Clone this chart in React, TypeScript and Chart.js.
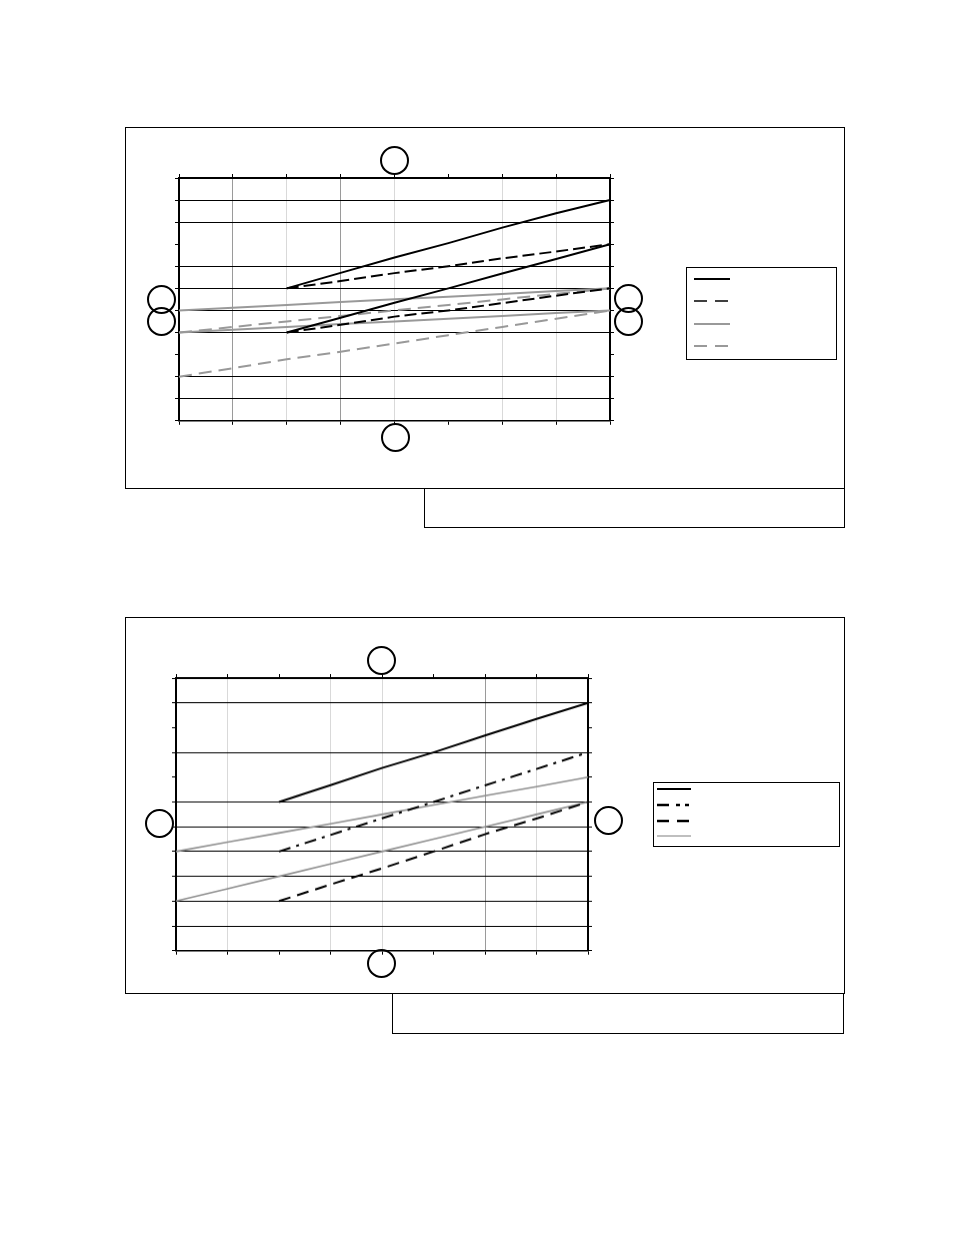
import React, { useEffect, useRef } from 'react';
import { Chart, registerables } from 'chart.js';

Chart.register(...registerables);

// x positions shared by both charts
const xLabels = ['0', '1', '2', '3', '4', '5', '6', '7', '8'];

// chart 1 (upper figure)
const c1BlackSolidA = [null, null, 6, 6.7, 7.4, 8.05, 8.75, 9.4, 10];
const c1BlackSolidB = [null, null, 4, 4.67, 5.35, 6.0, 6.67, 7.33, 8];
const c1BlackDashA = [null, null, 6, 6.33, 6.69, 7.0, 7.36, 7.67, 8];
const c1BlackDashB = [null, null, 4, 4.35, 4.72, 5.0, 5.33, 5.67, 6];
const c1GraySolidA = [5, 5.12, 5.25, 5.38, 5.51, 5.62, 5.75, 5.88, 6];
const c1GraySolidB = [4, 4.12, 4.25, 4.38, 4.5, 4.62, 4.75, 4.88, 5];
const c1GrayDashA = [4, 4.25, 4.5, 4.75, 5.0, 5.25, 5.5, 5.75, 6];
const c1GrayDashB = [2, 2.38, 2.79, 3.13, 3.5, 3.88, 4.25, 4.62, 5];

// chart 2 (lower figure)
const c2BlackSolid = [null, null, 6, 6.68, 7.37, 8.0, 8.68, 9.35, 10];
const c2DashDot = [null, null, 4, 4.67, 5.34, 6.0, 6.67, 7.33, 8];
const c2Dashed = [null, null, 2, 2.67, 3.32, 4.0, 4.7, 5.33, 6];
const c2GrayUpper = [4, 4.38, 4.75, 5.12, 5.5, 5.88, 6.25, 6.62, 7];
const c2GrayLower = [2, 2.5, 3, 3.5, 4, 4.5, 5, 5.5, 6];

const yMax = 11;
const c1HiddenRows = [3, 8];
const c2HiddenRows = [7, 9];

const DARK = '#9a9a9a';
const LIGHT = '#d9d9d9';
const NONE = 'rgba(0,0,0,0)';
const c1ColColors = ['#000', DARK, LIGHT, DARK, LIGHT, NONE, LIGHT, LIGHT, '#000'];
const c2ColColors = ['#000', LIGHT, NONE, LIGHT, LIGHT, NONE, DARK, LIGHT, '#000'];

const line = (data: (number | null)[], color: string, width: number, dash: number[] = []) => ({
  data,
  borderColor: color,
  borderWidth: width,
  borderDash: dash,
  pointRadius: 0,
  fill: false,
  tension: 0,
  spanGaps: false,
});

type Plot = { left: number; top: number; right: number; bottom: number };

const PAD = 8;
const TICK = 4;

const LineChart = ({ plot, datasets, hiddenRows, colColors }: {
  plot: Plot; datasets: any[]; hiddenRows: number[]; colColors: string[];
}) => {
  const ref = useRef<HTMLCanvasElement>(null);
  useEffect(() => {
    if (!ref.current) return;
    const border = { display: true, color: '#000', width: 1.5 };
    const chart = new Chart(ref.current, {
      type: 'line',
      data: { labels: xLabels, datasets },
      options: {
        animation: false,
        responsive: true,
        maintainAspectRatio: false,
        layout: { padding: PAD },
        plugins: { legend: { display: false }, tooltip: { enabled: false } },
        scales: {
          x: {
            type: 'category', position: 'bottom', offset: false,
            border,
            ticks: { display: false },
            grid: {
              color: (c: any) => colColors[c.index] ?? NONE,
              tickColor: '#000', tickLength: TICK, lineWidth: 1,
            },
          },
          x2: {
            type: 'category', position: 'top', offset: false,
            border,
            ticks: { display: false },
            grid: { drawOnChartArea: false, tickColor: '#000', tickLength: TICK },
          },
          y: {
            type: 'linear', position: 'left', min: 0, max: yMax,
            border,
            ticks: { display: false, stepSize: 1 },
            grid: {
              color: (c: any) => (hiddenRows.includes(c.tick.value) ? NONE : '#000'),
              tickColor: '#000', tickLength: TICK, lineWidth: 1,
            },
          },
          y2: {
            type: 'linear', position: 'right', min: 0, max: yMax,
            border,
            ticks: { display: false, stepSize: 1 },
            grid: { drawOnChartArea: false, tickColor: '#000', tickLength: TICK },
          },
        },
      } as any,
    });
    return () => chart.destroy();
  }, []);
  const m = PAD + TICK;
  return (
    <div style={{
      position: 'absolute', left: plot.left - m, top: plot.top - m,
      width: plot.right - plot.left + 2 * m, height: plot.bottom - plot.top + 2 * m,
    }}>
      <canvas ref={ref} />
    </div>
  );
};

const Box = ({ l, t, r, b }: { l: number; t: number; r: number; b: number }) => (
  <div style={{
    position: 'absolute', left: l, top: t, width: r - l, height: b - t,
    border: '1.5px solid #000', boxSizing: 'border-box',
  }} />
);

const Circle = ({ cx, cy }: { cx: number; cy: number }) => (
  <div style={{
    position: 'absolute', left: cx - 14.5, top: cy - 14.5, width: 29, height: 29,
    borderRadius: '50%', border: '2.5px solid #000', boxSizing: 'border-box', background: 'transparent',
  }} />
);

type LegendItem = { color: string; width: number; dash: string };

const Legend = ({ l, t, r, b, items, x1, x2, ys }: {
  l: number; t: number; r: number; b: number; items: LegendItem[]; x1: number; x2: number; ys: number[];
}) => (
  <>
    <Box l={l} t={t} r={r} b={b} />
    <svg style={{ position: 'absolute', left: 0, top: 0, pointerEvents: 'none' }} width={954} height={1235}>
      {items.map((it, i) => (
        <line key={i} x1={x1} x2={x2} y1={ys[i]} y2={ys[i]} stroke={it.color}
          strokeWidth={it.width} strokeDasharray={it.dash} />
      ))}
    </svg>
  </>
);

const App = () => {
  const c1Datasets = [
    line(c1BlackSolidA, '#000', 2),
    line(c1BlackSolidB, '#000', 2),
    line(c1BlackDashA, '#000', 2, [12, 5]),
    line(c1BlackDashB, '#000', 2, [12, 5]),
    line(c1GraySolidA, '#999', 2),
    line(c1GraySolidB, '#999', 2),
    line(c1GrayDashA, '#999', 2, [13, 7]),
    line(c1GrayDashB, '#999', 2, [13, 7]),
  ];
  const c2Datasets = [
    line(c2BlackSolid, '#000', 2),
    line(c2DashDot, '#000', 2, [12, 6, 3, 6]),
    line(c2Dashed, '#000', 2, [12, 7]),
    line(c2GrayUpper, '#909090', 1.6),
    line(c2GrayLower, '#909090', 1.6),
  ];

  return (
    <div style={{ position: 'absolute', left: 0, top: 0, width: 954, height: 1235, background: '#fff' }}>
      {/* figure 1 */}
      <Box l={125} t={127} r={845} b={489} />
      <Box l={424} t={488} r={845} b={528} />
      <LineChart plot={{ left: 179, top: 177.5, right: 610, bottom: 420.3 }}
        datasets={c1Datasets} hiddenRows={c1HiddenRows} colColors={c1ColColors} />
      <Circle cx={394.5} cy={160} />
      <Circle cx={395} cy={437.5} />
      <Circle cx={161.7} cy={299} />
      <Circle cx={161.7} cy={321} />
      <Circle cx={628} cy={298} />
      <Circle cx={628} cy={321} />
      <Legend l={686} t={267} r={837} b={360} x1={694} x2={730} ys={[279, 301, 324, 346]}
        items={[
          { color: '#000', width: 2, dash: '' },
          { color: '#000', width: 1.5, dash: '13 8' },
          { color: '#999', width: 2, dash: '' },
          { color: '#999', width: 2, dash: '13 8' },
        ]} />

      {/* figure 2 */}
      <Box l={125} t={617} r={845} b={994} />
      <Box l={392} t={993} r={844} b={1034} />
      <LineChart plot={{ left: 176.3, top: 678, right: 588.3, bottom: 949.7 }}
        datasets={c2Datasets} hiddenRows={c2HiddenRows} colColors={c2ColColors} />
      <Circle cx={381.7} cy={660.3} />
      <Circle cx={381.7} cy={963.7} />
      <Circle cx={159.3} cy={823} />
      <Circle cx={608.3} cy={820.3} />
      <Legend l={653} t={782} r={840} b={847} x1={657} x2={691} ys={[789, 805, 821, 836]}
        items={[
          { color: '#000', width: 2, dash: '' },
          { color: '#000', width: 2.5, dash: '12 7 4 5 4 100' },
          { color: '#000', width: 2.5, dash: '12 8' },
          { color: '#aaa', width: 1.5, dash: '' },
        ]} />
    </div>
  );
};

export default App;
